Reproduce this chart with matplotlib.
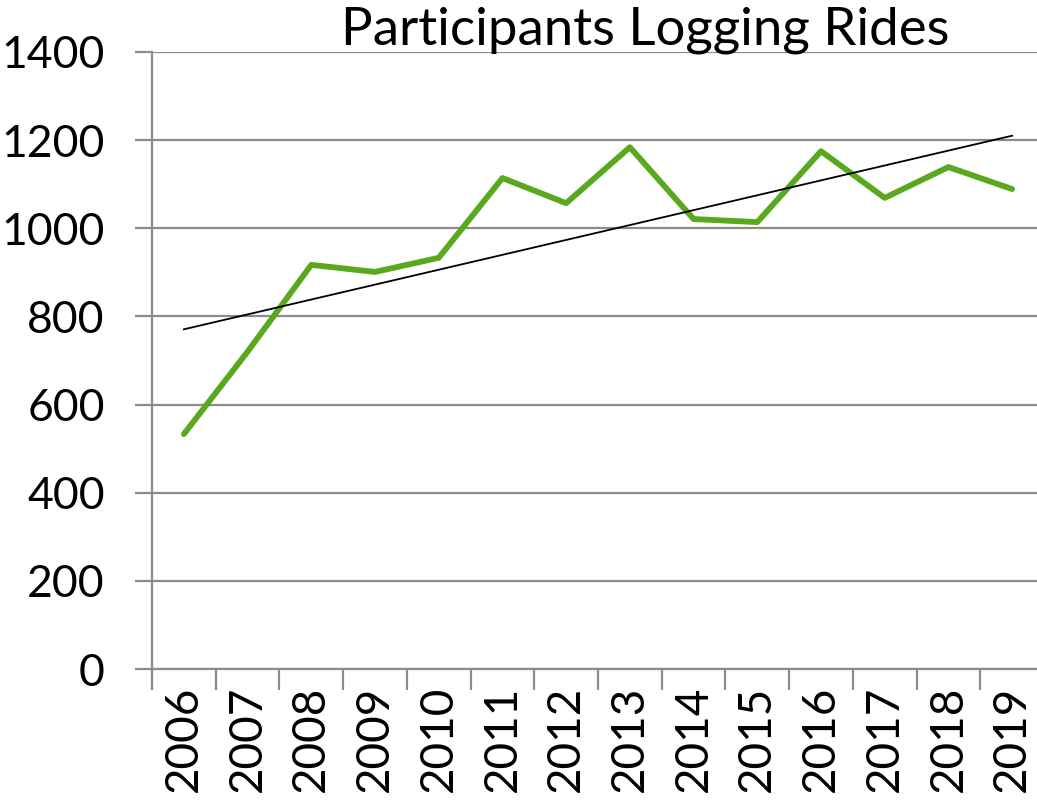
import numpy as np
import matplotlib
matplotlib.use("Agg")
import matplotlib.pyplot as plt

plt.rcParams['font.family'] = ['Lato', 'DejaVu Sans']

years = ["2006", "2007", "2008", "2009", "2010", "2011", "2012",
         "2013", "2014", "2015", "2016", "2017", "2018", "2019"]
riders = [533, 720, 917, 901, 933, 1114, 1057,
          1184, 1021, 1014, 1175, 1069, 1139, 1089]

x = np.arange(len(years))
slope, icept = np.polyfit(x, riders, 1)

fig = plt.figure(figsize=(10.37, 8), dpi=100)
ax = fig.add_axes([152 / 1037, 1 - 669 / 800, 892 / 1037, 617 / 800])

ax.plot(x, riders, color="#5aa81e", lw=4.2, solid_capstyle="round", zorder=3)
ax.plot(x, slope * x + icept, color="black", lw=1.3, zorder=4)

ax.set_xlim(-0.5, len(years) - 0.5)
ax.set_ylim(0, 1400)
ax.set_yticks(range(0, 1401, 200))
ax.set_xticks(x)
ax.set_xticklabels(years, rotation=90)
ax.set_xticks(np.arange(-0.5, len(years), 1), minor=True)

ax.grid(axis="y", color="#8c8c8c", lw=1.6)
ax.set_axisbelow(True)
for s in ["top", "right"]:
    ax.spines[s].set_visible(False)
for s in ["left", "bottom"]:
    ax.spines[s].set_color("#8c8c8c")
    ax.spines[s].set_linewidth(1.6)

ax.tick_params(axis="y", length=12, width=1.6, color="#8c8c8c", labelsize=32, pad=22)
ax.tick_params(axis="x", which="major", length=0, labelsize=33, pad=12)
ax.tick_params(axis="x", which="minor", length=15, width=1.6, color="#8c8c8c")

fig.text(645 / 1037, 1 - 30 / 800, "Participants Logging Rides", ha="center", va="center",
         fontsize=38)

fig.savefig("out.png", dpi=100)
